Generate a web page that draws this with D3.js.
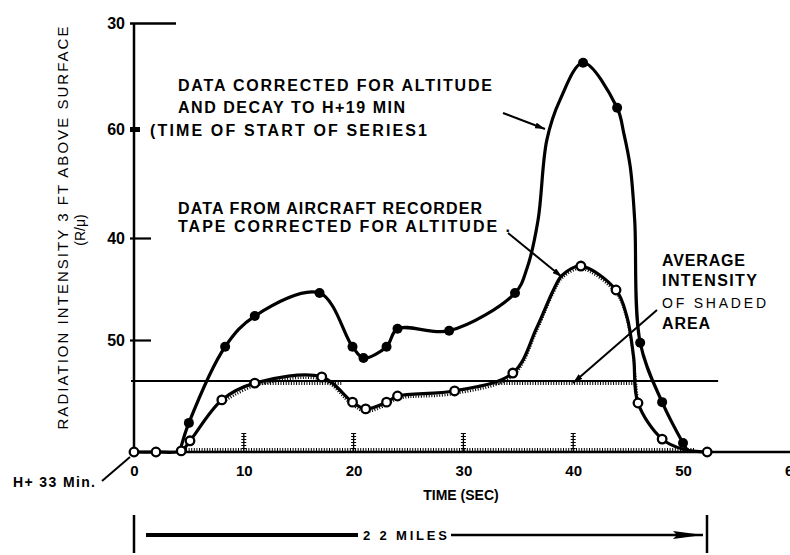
<!DOCTYPE html>
<html><head><meta charset="utf-8">
<script src="https://cdn.jsdelivr.net/npm/d3@7"></script>
<style>
html,body{margin:0;padding:0;background:#fff;}
svg{display:block;font-family:"Liberation Sans",Arial,sans-serif;}
</style></head>
<body><svg id="c" width="790" height="555"></svg>
<script>
// ---- data ----
const xTickValues = [0, 10, 20, 30, 40, 50, 60];
const xTickLabels = ["0", "10", "20", "30", "40", "50", "60"];
const yTickValues = [20, 40, 60, 80];
const yTickLabels = ["50", "40", "60", "30"];

// Data corrected for altitude and decay (filled circles)
const filledTime   = [4.3, 5.0, 8.3, 11.0, 16.9, 19.9, 20.9, 23.0, 24.0, 28.7, 34.7, 35.8, 36.8, 37.6, 38.8, 40.9, 44.0, 44.6, 45.2, 45.6, 46.1, 48.1, 50.0, 50.5];
const filledValue  = [1.0, 5.2, 18.8, 24.7, 29.2, 18.8, 16.8, 18.8, 22.2, 21.8, 29.2, 34.1, 43.3, 58.0, 65.5, 72.5, 64.0, 59.3, 53.0, 43.3, 19.5, 8.9, 1.6, 0];
const filledMarker = [0, 1, 1, 1, 1, 1, 1, 1, 1, 1, 1, 0, 0, 0, 0, 1, 1, 0, 0, 0, 1, 1, 1, 0];

// Data from aircraft recorder tape (open circles)
const openTime   = [0, 2.0, 4.3, 5.1, 8.0, 11.0, 17.1, 19.9, 21.1, 23.0, 24.0, 29.2, 34.5, 36.7, 38.2, 39.0, 40.7, 43.9, 44.9, 45.5, 45.9, 48.1, 50.0, 52.2];
const openValue  = [0, 0, 0.2, 2.0, 9.3, 12.3, 13.4, 8.9, 7.7, 8.9, 10.0, 10.9, 14.1, 22.5, 29.8, 32.7, 34.5, 29.8, 24.5, 17.0, 8.75, 2.3, 0.5, 0];
const openMarker = [1, 1, 1, 1, 1, 1, 1, 1, 1, 1, 1, 1, 1, 0, 0, 0, 1, 1, 0, 0, 1, 1, 0, 1];

const averageValue = 12.7;
const shadedSegments = [[10.5, 19.0], [32.5, 45.6]];
const hatchTicks = [10, 20, 30, 40];

// ---- scales ----
const svg = d3.select("#c");
const x = d3.scaleLinear().domain([0, 50]).range([134, 683]);
const y = d3.scaleLinear().domain([0, 20, 40, 60, 80]).range([452, 340, 238, 129, 23]);

const ink = "#000";

// y axis
const yAxis = d3.axisLeft(y).tickValues(yTickValues)
  .tickFormat((d, i) => yTickLabels[i]).tickSizeInner(-17).tickSizeOuter(0).tickPadding(9);
const gy = svg.append("g").attr("transform", `translate(${x(0)},0)`).call(yAxis);
gy.select(".domain").attr("stroke", ink).attr("stroke-width", 2.5).attr("d", `M0,${y(80)}V${y(0)}`);
gy.selectAll(".tick line").attr("stroke", ink).attr("stroke-width", 2.2).attr("x1", -4);
gy.selectAll(".tick text").attr("fill", ink).style("font-size", "16px").style("font-weight", "bold")
  .attr("dy", "0.36em");
gy.selectAll(".tick").filter(d => d === 80).select("line").attr("x2", 42).attr("stroke-width", 2.5);
gy.selectAll(".tick").filter(d => d === 60).select("line").attr("x1", -4).attr("x2", 6).attr("stroke-width", 5);

// x axis
const xAxis = d3.axisBottom(x).tickValues(xTickValues)
  .tickFormat((d, i) => xTickLabels[i]).tickSize(0).tickPadding(13);
const gx = svg.append("g").attr("transform", `translate(0,${y(0)})`).call(xAxis);
gx.select(".domain").remove();
gx.selectAll(".tick text").attr("fill", ink).style("font-size", "15px").style("font-weight", "bold");
svg.append("line").attr("x1", x(0)).attr("x2", 790).attr("y1", y(0)).attr("y2", y(0))
  .attr("stroke", ink).attr("stroke-width", 2.5);

// average line
svg.append("line").attr("x1", x(0) - 3).attr("x2", x(53.2)).attr("y1", y(averageValue)).attr("y2", y(averageValue))
  .attr("stroke", ink).attr("stroke-width", 2);

// hatching (shaded area edges)
const hatch = svg.append("g").attr("stroke", ink).attr("fill", "none");
hatch.append("line").attr("x1", x(4.5)).attr("x2", x(51)).attr("y1", y(0) - 2.5).attr("y2", y(0) - 2.5)
  .attr("stroke-width", 3).attr("stroke-dasharray", "1 1.6");
shadedSegments.forEach(s => {
  hatch.append("line").attr("x1", x(s[0])).attr("x2", x(s[1]))
    .attr("y1", y(averageValue) + 2.5).attr("y2", y(averageValue) + 2.5)
    .attr("stroke-width", 3).attr("stroke-dasharray", "1 1.6");
});
hatchTicks.forEach(t => {
  hatch.append("line").attr("x1", x(t)).attr("x2", x(t)).attr("y1", y(0)).attr("y2", y(0) - 19)
    .attr("stroke-width", 1.3);
  hatch.append("line").attr("x1", x(t)).attr("x2", x(t)).attr("y1", y(0)).attr("y2", y(0) - 19)
    .attr("stroke-width", 5).attr("stroke-dasharray", "1 2");
});

// curves
const line = d3.line().x(d => x(d.t)).y(d => y(d.v)).curve(d3.curveCatmullRom.alpha(0.5));
const filled = filledTime.map((t, i) => ({ t, v: filledValue[i], m: filledMarker[i] }));
const open = openTime.map((t, i) => ({ t, v: openValue[i], m: openMarker[i] }));

svg.append("path").datum(open.filter(d => d.t >= 8 && d.t <= 46)).attr("d", line)
  .attr("transform", "translate(0,2.8)").attr("fill", "none").attr("stroke", ink)
  .attr("stroke-width", 2.5).attr("stroke-dasharray", "1 1.6");

svg.append("path").datum(open).attr("d", line).attr("fill", "none").attr("stroke", ink)
  .attr("stroke-width", 3.2).attr("stroke-linejoin", "round");
svg.append("path").datum(filled).attr("d", line).attr("fill", "none").attr("stroke", ink)
  .attr("stroke-width", 3.2).attr("stroke-linejoin", "round");

svg.append("g").selectAll("circle").data(open.filter(d => d.m)).join("circle")
  .attr("cx", d => x(d.t)).attr("cy", d => y(d.v)).attr("r", 4.3)
  .attr("fill", "#fff").attr("stroke", ink).attr("stroke-width", 2.3);
svg.append("g").selectAll("circle").data(filled.filter(d => d.m)).join("circle")
  .attr("cx", d => x(d.t)).attr("cy", d => y(d.v)).attr("r", 5).attr("fill", ink);

// arrow markers
const defs = svg.append("defs");
defs.append("marker").attr("id", "ah").attr("viewBox", "0 0 10 6").attr("refX", 10).attr("refY", 3)
  .attr("markerWidth", 10).attr("markerHeight", 6).attr("markerUnits", "userSpaceOnUse").attr("orient", "auto")
  .append("path").attr("d", "M0,0L10,3L0,6Z").attr("fill", ink);
defs.append("marker").attr("id", "ahBig").attr("viewBox", "0 0 30 8").attr("refX", 30).attr("refY", 4)
  .attr("markerWidth", 30).attr("markerHeight", 8).attr("markerUnits", "userSpaceOnUse").attr("orient", "auto")
  .append("path").attr("d", "M0,0L30,4L0,8L4,4Z").attr("fill", ink);

function leader(x1, y1, x2, y2, w) {
  svg.append("line").attr("x1", x1).attr("y1", y1).attr("x2", x2).attr("y2", y2)
    .attr("stroke", ink).attr("stroke-width", w || 2).attr("marker-end", "url(#ah)");
}
leader(503, 113, 545, 129);
leader(508, 233, 562, 277);
leader(657, 310, 573, 383);
svg.append("line").attr("x1", 102).attr("y1", 481).attr("x2", 130).attr("y2", 457).attr("stroke", ink).attr("stroke-width", 2);

function txt(s, xx, yy, opts) {
  opts = opts || {};
  const t = svg.append("text").attr("x", xx).attr("y", yy).text(s)
    .attr("fill", ink).style("font-size", (opts.size || 16) + "px")
    .style("font-weight", opts.weight || "bold")
    .attr("text-anchor", opts.anchor || "start");
  if (opts.len) t.attr("textLength", opts.len).attr("lengthAdjust", "spacing");
  return t;
}
txt("DATA CORRECTED FOR ALTITUDE", 178, 91, { len: 314 });
txt("AND DECAY TO H+19 MIN", 178, 113, { len: 227 });
txt("(TIME OF START OF SERIES1", 150, 136, { len: 277 });
txt("DATA FROM AIRCRAFT RECORDER", 178, 214, { size: 16, len: 304 });
txt("TAPE CORRECTED FOR ALTITUDE .", 178, 232, { size: 16, len: 332 });
txt("AVERAGE", 662, 266, { size: 16, len: 83 });
txt("INTENSITY", 662, 286, { size: 16, len: 95 });
txt("OF SHADED", 662, 308, { size: 14, weight: "normal", len: 104 });
txt("AREA", 662, 329, { size: 16, len: 48 });
txt("H+ 33 Min.", 13, 487, { size: 14, len: 82 });
txt("TIME (SEC)", 461, 500, { size: 14, anchor: "middle" });

svg.append("text").attr("transform", "translate(68,228) rotate(-90)").attr("text-anchor", "middle")
  .text("RADIATION INTENSITY 3 FT ABOVE SURFACE").attr("fill", ink).style("font-size", "15px")
  .attr("textLength", 403).attr("lengthAdjust", "spacing");
svg.append("text").attr("transform", "translate(85,230) rotate(-90)").attr("text-anchor", "middle")
  .text("(R/μ)").attr("fill", ink).style("font-size", "14px");

// distance bar
svg.append("line").attr("x1", x(0)).attr("x2", x(0)).attr("y1", 515).attr("y2", 553).attr("stroke", ink).attr("stroke-width", 2.5);
svg.append("line").attr("x1", 707).attr("x2", 707).attr("y1", 515).attr("y2", 553).attr("stroke", ink).attr("stroke-width", 2.5);
svg.append("line").attr("x1", 146).attr("x2", 358).attr("y1", 535).attr("y2", 535).attr("stroke", ink).attr("stroke-width", 4);
svg.append("line").attr("x1", 451).attr("x2", 703).attr("y1", 535).attr("y2", 535).attr("stroke", ink).attr("stroke-width", 2.5)
  .attr("marker-end", "url(#ahBig)");
txt("2 2 MILES", 405, 540, { size: 13, anchor: "middle", len: 84 });
</script></body></html>
